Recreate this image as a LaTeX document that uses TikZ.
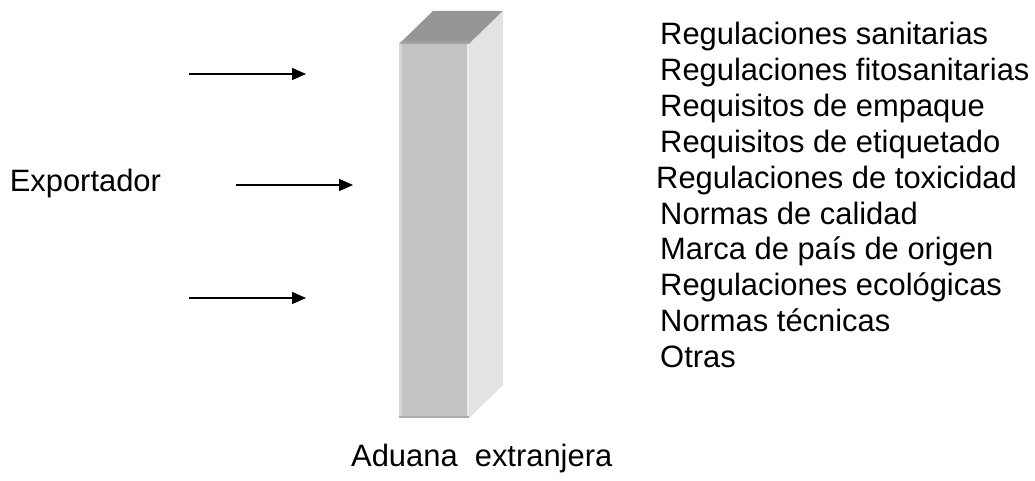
\documentclass[tikz,border=0pt]{standalone}
\usepackage{fontspec}
\setmainfont{Liberation Sans}
\usetikzlibrary{arrows.meta}
\definecolor{frontc}{HTML}{C4C4C4}
\definecolor{frontl}{HTML}{D8D8D8}
\definecolor{frontr}{HTML}{EAEAEA}
\definecolor{frontb}{HTML}{ABABAB}
\definecolor{topc}{HTML}{969696}
\definecolor{topl}{HTML}{A2A2A2}
\definecolor{sidec}{HTML}{E3E3E3}
\begin{document}
\begin{tikzpicture}[x=1pt,y=-1pt,
  lbl/.style={anchor=base west,inner sep=0pt,font=\fontsize{30.9}{35.8}\selectfont},
  arr/.style={line width=1.6pt,-{Triangle[length=14pt,width=12pt]}}]
\useasboundingbox (0,0) rectangle (1035,481);
% 3D block (Aduana)
\fill[topc] (399,44) -- (469,44) -- (503,11) -- (433,11) -- cycle;
\fill[topl] (399,44) -- (469,44) -- (471.5,41.5) -- (401.5,41.5) -- cycle;
\fill[sidec] (469,44) -- (503,11) -- (503,385) -- (469,418) -- cycle;
\fill[frontc] (399,44) rectangle (469,418);
\fill[frontl] (399,44) rectangle (401.5,418);
\fill[frontr] (466.5,44) rectangle (469,418);
\fill[frontb] (399,415.5) rectangle (469,418);
% labels
\node[lbl] (exp) at (9.6,192) {Exportador};
\node[lbl] (adu) at (351,466) {Aduana~ extranjera};
\node[lbl] (r1) at (660,45) {Regulaciones sanitarias};
\node[lbl] (r2) at (660,80.8) {Regulaciones fitosanitarias};
\node[lbl] (r3) at (660,116.6) {Requisitos de empaque};
\node[lbl] (r4) at (660,152.4) {Requisitos de etiquetado};
\node[lbl] (r5) at (656,188.2) {Regulaciones de toxicidad};
\node[lbl] (r6) at (660,224) {Normas de calidad};
\node[lbl] (r7) at (660,259.8) {Marca de país de origen};
\node[lbl] (r8) at (660,295.6) {Regulaciones ecológicas};
\node[lbl] (r9) at (660,331.4) {Normas técnicas};
\node[lbl] (r10) at (660,367.2) {Otras};
% arrows
\coordinate (a1s) at (189,74);
\coordinate (a1e) at (306,74);
\coordinate (a2s) at (236,185);
\coordinate (a2e) at (353,185);
\coordinate (a3s) at (189,298);
\coordinate (a3e) at (306,298);
\draw[arr] (a1s) -- (a1e);
\draw[arr] (a2s) -- (a2e);
\draw[arr] (a3s) -- (a3e);
\end{tikzpicture}
\end{document}
